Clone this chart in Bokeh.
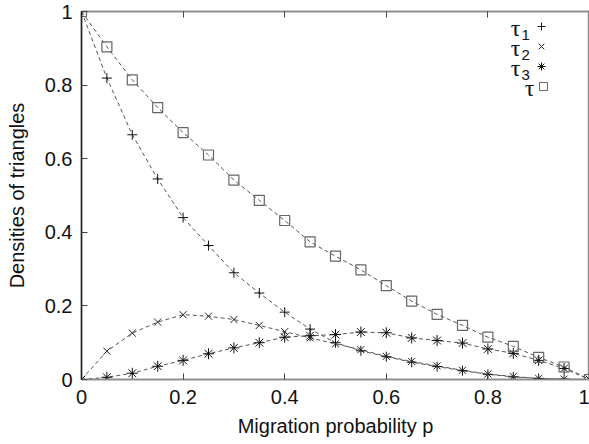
from bokeh.plotting import figure
from bokeh.models import Range1d, LinearAxis, FixedTicker, CustomJSTickFormatter, Label
from bokeh.embed import file_html
from bokeh.resources import INLINE

# ---- data ----
p_vals = [0.0, 0.05, 0.10, 0.15, 0.20, 0.25, 0.30, 0.35, 0.40, 0.45, 0.50,
          0.55, 0.60, 0.65, 0.70, 0.75, 0.80, 0.85, 0.90, 0.95, 1.0]
tau1 = [1.0, 0.819, 0.665, 0.545, 0.440, 0.364, 0.290, 0.235, 0.183, 0.137, 0.100,
        0.078, 0.062, 0.047, 0.035, 0.024, 0.014, 0.007, 0.003, 0.001, 0.0]
tau2 = [0.0, 0.077, 0.126, 0.156, 0.176, 0.172, 0.163, 0.147, 0.130, 0.113, 0.097,
        0.081, 0.063, 0.049, 0.037, 0.025, 0.015, 0.008, 0.003, 0.001, 0.0]
tau3 = [0.0, 0.006, 0.017, 0.036, 0.052, 0.070, 0.086, 0.100, 0.115, 0.119, 0.122,
        0.129, 0.127, 0.113, 0.106, 0.099, 0.083, 0.071, 0.052, 0.030, 0.0]
tau = [1.0, 0.904, 0.814, 0.739, 0.671, 0.610, 0.542, 0.487, 0.432, 0.374, 0.335,
       0.298, 0.255, 0.213, 0.177, 0.147, 0.115, 0.090, 0.060, 0.034, 0.0]

x_ticks = [0, 0.2, 0.4, 0.6, 0.8, 1.0]
y_ticks = [0, 0.2, 0.4, 0.6, 0.8, 1.0]
x_title = "Migration probability p"
y_title = "Densities of triangles"

FONT = "Liberation Sans"
GREEK_FONT = "Liberation Serif"

W, H = 589, 444
BL, BR, BT, BB = 81, 0, 11, 65

p = figure(width=W, height=H, x_range=Range1d(0, 1), y_range=Range1d(0, 1),
           output_backend="svg", toolbar_location=None,
           min_border_left=BL, min_border_right=BR, min_border_top=BT, min_border_bottom=BB)
p.grid.visible = False
p.outline_line_color = "#8a8a8a"
p.outline_line_width = 1.5
p.background_fill_color = "white"
p.border_fill_color = "white"

fmt = CustomJSTickFormatter(code="return tick.toFixed(1).replace(/\\.0$/, '');")
blank = CustomJSTickFormatter(code="return '';")

for ax, ticks, title, lc in ((p.xaxis[0], x_ticks, x_title, "#8a8a8a"),
                              (p.yaxis[0], y_ticks, y_title, "#222222")):
    ax.ticker = FixedTicker(ticks=ticks)
    ax.formatter = fmt
    ax.axis_label = title
    ax.axis_label_text_font = FONT
    ax.axis_label_text_font_size = "20px"
    ax.axis_label_text_font_style = "normal"
    ax.axis_label_text_color = "#111111"
    ax.major_label_text_font = FONT
    ax.major_label_text_font_size = "20px"
    ax.major_label_text_color = "#111111"
    ax.major_tick_in = 6
    ax.major_tick_out = 0
    ax.minor_tick_in = 0
    ax.minor_tick_out = 0
    ax.axis_line_color = lc
    ax.axis_line_width = 1.5
    ax.major_tick_line_color = "#444444"

p.xaxis[0].major_label_standoff = 10
p.xaxis[0].axis_label_standoff = 8
p.yaxis[0].major_label_standoff = 9
p.yaxis[0].axis_label_standoff = 14

top_ax = LinearAxis(ticker=FixedTicker(ticks=x_ticks), formatter=blank,
                    major_label_text_font_size="0px", major_label_standoff=0,
                    major_tick_in=6, major_tick_out=0, minor_tick_in=0, minor_tick_out=0,
                    axis_line_color="#8a8a8a", axis_line_width=1.5,
                    major_tick_line_color="#444444")
p.add_layout(top_ax, "above")

# ---- curves (dashed) ----
for series in (tau1, tau2, tau3, tau):
    p.line(p_vals, series, line_color="#555555", line_width=1, line_dash="4 3")

# ---- markers ----
p.scatter(p_vals, tau1, marker="cross", size=10, line_color="#111111", line_width=1)
p.scatter(p_vals, tau2, marker="x", size=10, line_color="#222222", line_width=1)
p.scatter(p_vals, tau3, marker="asterisk", size=11, line_color="#111111", line_width=1)
p.scatter(p_vals, tau, marker="square", size=10, fill_color=None,
          line_color="#666666", line_width=1.2)

# ---- legend (label on the left, symbol on the right); pixel helpers ----
FW = W - BL - BR
FH = H - BT - BB

def dx(px):
    return (px - BL) / float(FW)

def dy(py):
    return 1 - (py - BT) / float(FH)

legend_rows = [("1", "cross", "#111111"), ("2", "x", "#222222"),
               ("3", "asterisk", "#111111"), ("", "square", "#666666")]
sym_x = dx(541)
for i, (sub, mk, col) in enumerate(legend_rows):
    cy = 26 + 20 * i
    if sub:
        p.add_layout(Label(x=dx(520), y=dy(cy + 1), text="τ", text_align="right",
                           text_baseline="middle", text_font=GREEK_FONT,
                           text_font_size="24px", text_color="#111111"))
        p.add_layout(Label(x=dx(521), y=dy(cy + 8), text=sub, text_align="left",
                           text_baseline="middle", text_font=FONT,
                           text_font_size="15px", text_color="#111111"))
    else:
        p.add_layout(Label(x=dx(534), y=dy(cy + 1), text="τ", text_align="right",
                           text_baseline="middle", text_font=GREEK_FONT,
                           text_font_size="24px", text_color="#111111"))
    if mk == "square":
        p.scatter([sym_x + dx(81 + 2)], [dy(cy)], marker=mk, size=8, fill_color=None,
                  line_color=col, line_width=1)
    else:
        p.scatter([sym_x], [dy(cy)], marker=mk, size=8, line_color=col, line_width=1)

open("out.html", "w").write(file_html(p, INLINE))
